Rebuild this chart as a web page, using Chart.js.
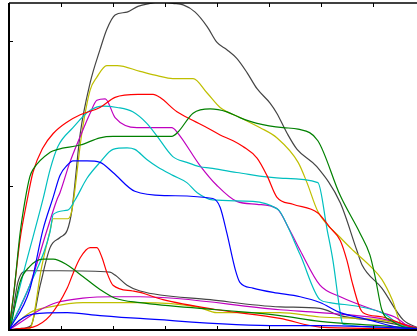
<!DOCTYPE html>
<html>
<head>
<meta charset="utf-8">
<script src="https://cdn.jsdelivr.net/npm/chart.js@4/dist/chart.umd.min.js"></script>
<style>
  html, body { margin: 0; padding: 0; background: #fff; overflow: hidden; }
  #wrap { width: 417px; height: 336px; overflow: hidden; }
  canvas { display: block; }
</style>
</head>
<body>
<div id="wrap"><canvas id="plot" width="430" height="336"></canvas></div>
<script>
// values, [x, y] in axis units
const blueTall = [[0,0],[0.40,0.28],[0.65,0.69],[0.85,0.92],[0.98,1.07],[1.12,1.14],[1.23,1.17],[1.50,1.17],[1.75,1.16],[2.00,1.09],[2.42,0.96],[3.04,0.93],[3.92,0.91],[4.06,0.85],[4.19,0.67],[4.35,0.42],[4.44,0.33],[4.69,0.29],[5.08,0.26],[5.60,0.23],[5.98,0.19],[6.37,0.12],[6.81,0.08],[7.71,0.01],[7.90,0.01]];
const blueLow = [[0,0],[0.21,0.07],[0.46,0.11],[1.12,0.12],[1.75,0.10],[2.52,0.08],[5.21,0.03],[5.98,0.03],[7.90,0.01]];
const greenTall = [[0,0],[0.10,0.28],[0.21,0.66],[0.31,0.90],[0.40,1.06],[0.46,1.11],[0.79,1.23],[0.94,1.25],[1.37,1.28],[1.75,1.33],[2.00,1.34],[2.58,1.34],[3.13,1.34],[3.25,1.37],[3.54,1.50],[3.87,1.53],[4.19,1.51],[4.44,1.47],[4.77,1.43],[5.27,1.40],[5.56,1.39],[5.94,1.31],[6.37,0.93],[6.75,0.67],[6.94,0.52],[7.04,0.37],[7.17,0.14],[7.37,0.06],[7.77,0.01],[7.90,0.01]];
const greenLow = [[0,0],[0.02,0.01],[0.21,0.33],[0.40,0.44],[0.65,0.49],[0.85,0.49],[1.12,0.45],[1.42,0.37],[1.75,0.28],[2.04,0.22],[2.52,0.19],[4.00,0.14],[5.21,0.10],[5.98,0.06],[7.13,0.03],[7.90,0.01]];
const redTall = [[0,0],[0.10,0.28],[0.21,0.62],[0.35,0.90],[0.46,1.09],[0.65,1.26],[0.85,1.36],[1.12,1.44],[1.37,1.49],[1.75,1.54],[2.04,1.61],[2.48,1.63],[2.77,1.63],[2.90,1.61],[3.23,1.51],[3.54,1.45],[3.81,1.40],[4.06,1.35],[4.31,1.31],[4.50,1.27],[4.77,1.19],[4.96,1.07],[5.15,0.92],[5.46,0.87],[5.94,0.81],[6.17,0.71],[6.37,0.62],[6.50,0.48],[6.60,0.33],[6.75,0.15],[6.81,0.12],[7.19,0.09],[7.65,0.03],[7.90,0.01]];
const redLow = [[0,0],[0.21,0.01],[0.46,0.02],[0.79,0.10],[1.12,0.29],[1.23,0.39],[1.37,0.50],[1.56,0.57],[1.69,0.57],[1.79,0.50],[1.88,0.40],[2.00,0.31],[2.38,0.27],[2.52,0.26],[2.96,0.21],[4.00,0.14],[5.21,0.08],[5.98,0.02],[7.13,0.01],[7.90,0]];
const cyanTall = [[0,0],[0.31,0.44],[0.65,0.90],[0.79,1.11],[0.94,1.27],[1.23,1.40],[1.56,1.52],[1.81,1.55],[2.08,1.54],[2.38,1.51],[2.65,1.43],[2.85,1.34],[3.15,1.20],[3.42,1.16],[3.67,1.13],[3.87,1.12],[4.38,1.09],[5.27,1.05],[5.94,1.02],[6.12,0.69],[6.23,0.48],[6.37,0.12],[6.42,0.04],[7.90,0.01]];
const cyanLow = [[0,0],[0.40,0.31],[0.79,0.68],[0.85,0.80],[1.13,0.83],[1.27,0.90],[1.50,1.05],[1.75,1.16],[2.00,1.25],[2.27,1.26],[2.42,1.25],[2.65,1.18],[2.85,1.13],[3.15,1.07],[3.42,1.02],[3.62,0.95],[3.92,0.90],[4.69,0.89],[5.15,0.84],[5.21,0.82],[5.60,0.52],[5.98,0.21],[6.17,0.19],[7.17,0.12],[7.56,0.03],[7.90,0.01]];
const magentaTall = [[0,0],[0.40,0.31],[0.73,0.69],[0.92,0.90],[0.98,0.95],[1.17,1.16],[1.37,1.34],[1.56,1.50],[1.69,1.59],[1.85,1.60],[2.04,1.47],[2.46,1.40],[3.13,1.40],[3.23,1.37],[3.67,1.14],[4.00,1.00],[4.38,0.89],[4.77,0.87],[5.15,0.84],[5.40,0.69],[5.60,0.55],[5.98,0.31],[6.37,0.23],[7.17,0.12],[7.42,0.09],[7.71,0.02],[7.90,0.01]];
const magentaLow = [[0,0],[0.21,0.05],[0.60,0.14],[0.92,0.19],[1.42,0.22],[2.00,0.23],[2.52,0.23],[5.21,0.14],[5.98,0.12],[7.13,0.08],[7.90,0.01]];
const yellowTall = [[0,0],[0.40,0.01],[0.63,0.44],[0.79,0.69],[0.85,0.77],[1.13,0.77],[1.21,0.83],[1.40,1.36],[1.56,1.66],[1.69,1.75],[1.88,1.83],[2.08,1.83],[2.52,1.79],[2.85,1.76],[3.15,1.74],[3.54,1.74],[3.81,1.64],[4.06,1.54],[4.44,1.47],[4.83,1.40],[5.15,1.33],[5.56,1.16],[5.73,1.02],[5.94,0.82],[6.37,0.64],[6.62,0.55],[6.98,0.43],[7.17,0.35],[7.37,0.21],[7.56,0.03],[7.90,0.01]];
const yellowLow = [[0,0],[0.40,0.12],[0.79,0.16],[1.42,0.19],[1.94,0.19],[2.52,0.19],[3.62,0.16],[4.00,0.12],[5.21,0.12],[5.98,0.09],[7.13,0.07],[7.90,0.01]];
const blackTall = [[0,0],[0.21,0.01],[0.42,0.03],[0.60,0.31],[0.79,0.57],[0.98,0.64],[1.12,0.69],[1.21,0.83],[1.37,1.36],[1.56,1.71],[1.75,1.94],[1.88,2.08],[2.04,2.18],[2.27,2.20],[2.48,2.24],[2.71,2.26],[2.90,2.27],[3.15,2.26],[3.35,2.25],[3.58,2.20],[3.81,2.10],[4.00,1.99],[4.19,1.94],[4.38,1.88],[4.58,1.78],[4.77,1.67],[5.02,1.57],[5.15,1.50],[5.35,1.36],[5.54,1.25],[5.92,1.13],[6.37,0.88],[6.69,0.55],[6.79,0.45],[7.17,0.29],[7.58,0.07],[7.90,0.01]];
const blackLow = [[0,0],[0.08,0.14],[0.17,0.33],[0.35,0.41],[0.98,0.41],[1.94,0.40],[2.04,0.38],[2.27,0.31],[2.52,0.27],[3.87,0.21],[5.21,0.16],[5.98,0.15],[6.37,0.10],[7.13,0.06],[7.90,0.01]];

const xTicks = [1, 2, 3, 4, 5, 6, 7];
const yTicks = [1, 2];

const series = [
  [blueTall, "#0000ff"], [blueLow, "#0000ff"],
  [greenTall, "#008000"], [greenLow, "#008000"],
  [redTall, "#ff0000"], [redLow, "#ff0000"],
  [cyanTall, "#00bfbf"], [cyanLow, "#00bfbf"],
  [magentaTall, "#bf00bf"], [magentaLow, "#bf00bf"],
  [yellowTall, "#bfbf00"], [yellowLow, "#bfbf00"],
  [blackTall, "#444444"], [blackLow, "#444444"],
];

// matplotlib-ish frame: spines plus inward ticks
const framePlugin = {
  id: "frame",
  afterDatasetsDraw(chart) {
    const { ctx, chartArea: a, scales } = chart;
    ctx.save();
    ctx.strokeStyle = "#000";
    ctx.lineWidth = 1;
    ctx.beginPath();
    xTicks.forEach((t) => {
      const px = Math.round(scales.x.getPixelForValue(t)) + 0.5;
      ctx.moveTo(px, a.bottom); ctx.lineTo(px, a.bottom - 4);
      ctx.moveTo(px, a.top); ctx.lineTo(px, a.top + 4);
    });
    yTicks.forEach((t) => {
      const py = Math.round(scales.y.getPixelForValue(t)) + 0.5;
      ctx.moveTo(a.left, py); ctx.lineTo(a.left + 4, py);
    });
    ctx.stroke();
    ctx.lineWidth = 1.5;
    ctx.beginPath();
    ctx.moveTo(a.left, a.top); ctx.lineTo(a.right, a.top);
    ctx.stroke();
    ctx.lineWidth = 2;
    ctx.beginPath();
    ctx.moveTo(a.left, a.top); ctx.lineTo(a.left, a.bottom);
    ctx.lineTo(a.right, a.bottom);
    ctx.stroke();
    ctx.restore();
  },
};

new Chart(document.getElementById("plot"), {
  type: "line",
  data: {
    datasets: series.map(([pts, color]) => ({
      data: pts.map(([x, y]) => ({ x, y })),
      borderColor: color,
      borderWidth: 1.2,
      pointRadius: 0,
      fill: false,
      cubicInterpolationMode: "monotone",
    })),
  },
  options: {
    responsive: false,
    animation: false,
    events: [],
    layout: { padding: { left: 9, right: 5, top: 3, bottom: 6 } },
    plugins: { legend: { display: false }, tooltip: { enabled: false } },
    scales: {
      x: { type: "linear", min: 0, max: 8, display: false },
      y: { type: "linear", min: 0, max: 2.263, display: false },
    },
  },
  plugins: [framePlugin],
});
</script>
</body>
</html>
